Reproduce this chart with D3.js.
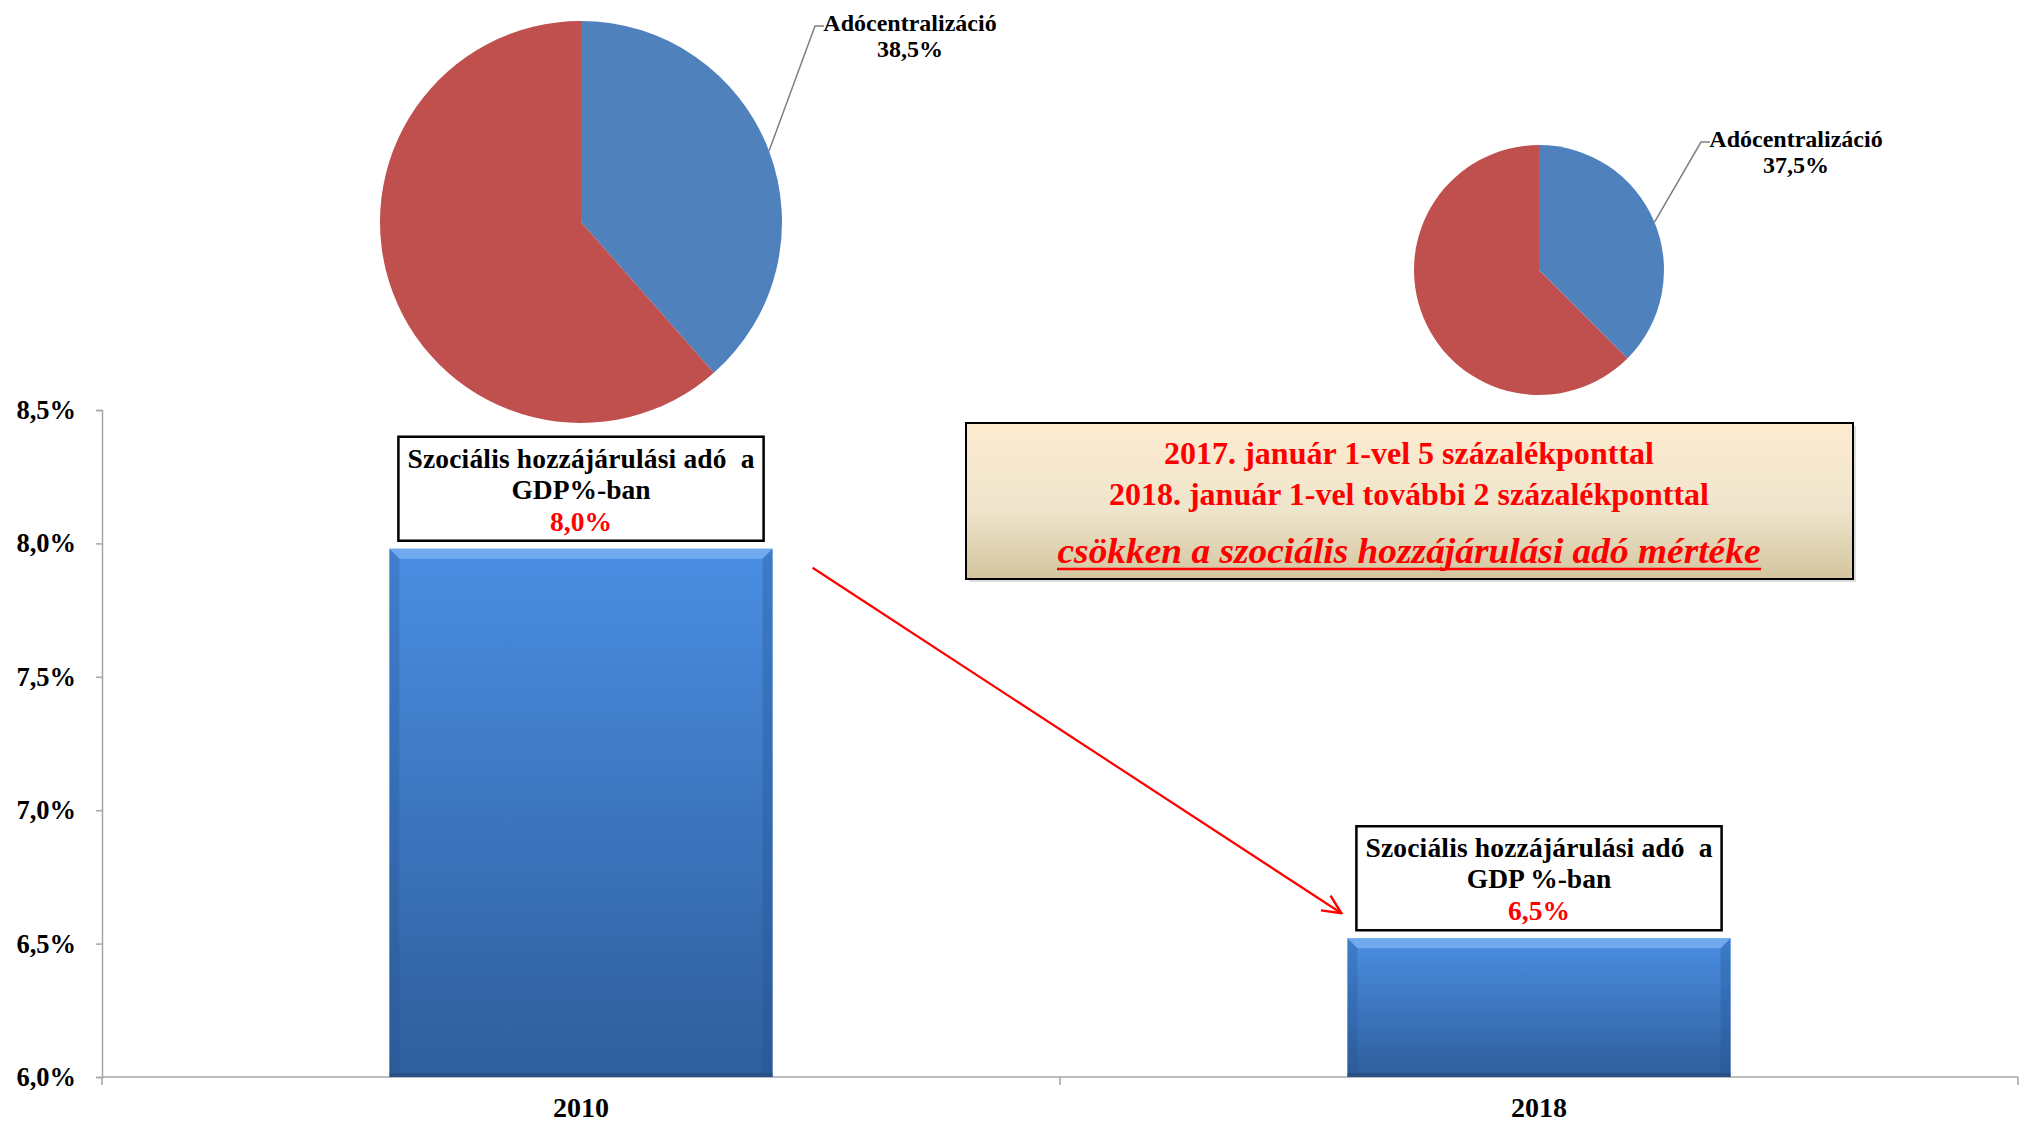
<!DOCTYPE html>
<html>
<head>
<meta charset="utf-8">
<title>Szociális hozzájárulási adó</title>
<script src="https://d3js.org/d3.v7.min.js"></script>
<style>
  body { margin: 0; background: #fff; }
  text { font-family: "Liberation Serif", "Times New Roman", serif; font-weight: bold; }
</style>
</head>
<body>
<script>
// chart data
var years = ["2010", "2018"];
var taxShare = [7.98, 6.52];            // szociális hozzájárulási adó, GDP %
var centralization = [38.5, 37.5];      // adócentralizáció, %
var yTicks = [6.0, 6.5, 7.0, 7.5, 8.0, 8.5];
var boxTitles = [["Szociális hozzájárulási adó  a", "GDP%-ban"],
                 ["Szociális hozzájárulási adó  a", "GDP %-ban"]];
var noteLines = ["2017. január 1-vel 5 százalékponttal",
                 "2018. január 1-vel további 2 százalékponttal",
                 "csökken a szociális hozzájárulási adó mértéke"];

var w = 2022, h = 1137;
// plot area (note: "top" is a reserved window property, so use other names)
var plotLeft = 102, plotRight = 2018, plotTop = 410, plotBottom = 1077;

var svg = d3.select("body").append("svg")
  .attr("width", w).attr("height", h);

var defs = svg.append("defs");

// bar gradient
var bg = defs.append("linearGradient").attr("id", "barGrad")
  .attr("x1", 0).attr("y1", 0).attr("x2", 0).attr("y2", 1);
bg.append("stop").attr("offset", "0%").attr("stop-color", "#4a8ee2");
bg.append("stop").attr("offset", "100%").attr("stop-color", "#2f5e9c");

// note box gradient
var ng = defs.append("linearGradient").attr("id", "noteGrad")
  .attr("x1", 0).attr("y1", 0).attr("x2", 0).attr("y2", 1);
ng.append("stop").attr("offset", "0%").attr("stop-color", "#fdebcf");
ng.append("stop").attr("offset", "55%").attr("stop-color", "#efe5cc");
ng.append("stop").attr("offset", "100%").attr("stop-color", "#d3c59e");

// arrow head
defs.append("marker").attr("id", "arrow")
  .attr("viewBox", "0 0 20 20").attr("refX", 19).attr("refY", 10)
  .attr("markerWidth", 22).attr("markerHeight", 22)
  .attr("markerUnits", "userSpaceOnUse").attr("orient", "auto")
  .append("path").attr("d", "M2,2 L19,10 L2,18")
  .attr("fill", "none").attr("stroke", "#ff0000").attr("stroke-width", 2.2);

// scales
var x = d3.scaleBand().domain(years).range([plotLeft, plotRight])
  .paddingInner(0.6).paddingOuter(0.3);
var y = d3.scaleLinear().domain([6, 8.5]).range([plotBottom, plotTop]);
var fmt = function(v) { return d3.format(".1f")(v).replace(".", ",") + "%"; };

// y axis
var yAxis = svg.append("g")
  .attr("transform", "translate(" + plotLeft + ",0)")
  .call(d3.axisLeft(y).tickValues(yTicks).tickSize(6).tickPadding(20).tickFormat(fmt));
yAxis.select(".domain").attr("stroke", "#a6a6a6").attr("stroke-width", 1.5);
yAxis.selectAll(".tick line").attr("stroke", "#a6a6a6").attr("stroke-width", 1.5);
yAxis.selectAll(".tick text")
  .attr("font-family", "Liberation Serif").attr("font-weight", "bold")
  .attr("font-size", 26.5).attr("fill", "#000");

// x axis line with ticks at category boundaries
svg.append("line").attr("x1", plotLeft).attr("x2", plotRight)
  .attr("y1", plotBottom).attr("y2", plotBottom)
  .attr("stroke", "#a6a6a6").attr("stroke-width", 1.5);
svg.selectAll(".xtick").data(d3.range(years.length + 1)).enter()
  .append("line").attr("class", "xtick")
  .attr("x1", function(i) { return plotLeft + i * x.step(); })
  .attr("x2", function(i) { return plotLeft + i * x.step(); })
  .attr("y1", plotBottom).attr("y2", plotBottom + 8)
  .attr("stroke", "#a6a6a6").attr("stroke-width", 1.5);
svg.selectAll(".xlabel").data(years).enter()
  .append("text").attr("class", "xlabel")
  .attr("x", function(d) { return x(d) + x.bandwidth() / 2; })
  .attr("y", plotBottom + 40)
  .attr("text-anchor", "middle").attr("font-size", 28)
  .text(function(d) { return d; });

// bars
var bars = svg.selectAll(".bar").data(years).enter()
  .append("g").attr("class", "bar");
bars.append("rect")
  .attr("x", function(d) { return x(d); })
  .attr("y", function(d, i) { return y(taxShare[i]); })
  .attr("width", x.bandwidth())
  .attr("height", function(d, i) { return plotBottom - y(taxShare[i]); })
  .attr("fill", "url(#barGrad)");
// bevel: light top, darker sides
var bev = 10;
bars.append("path")
  .attr("d", function(d, i) {
    var x0 = x(d), x1 = x(d) + x.bandwidth(), yt = y(taxShare[i]);
    return "M" + x0 + "," + yt + "L" + x1 + "," + yt + "L" + (x1 - bev) + "," + (yt + bev) +
      "L" + (x0 + bev) + "," + (yt + bev) + "Z";
  })
  .attr("fill", "#7db3f0").attr("opacity", 0.75);
bars.append("path")
  .attr("d", function(d, i) {
    var x0 = x(d), yt = y(taxShare[i]);
    return "M" + x0 + "," + yt + "L" + (x0 + bev) + "," + (yt + bev) + "L" + (x0 + bev) + "," + (plotBottom - 3) +
      "L" + x0 + "," + plotBottom + "Z";
  })
  .attr("fill", "#1f4f8f").attr("opacity", 0.25);
bars.append("path")
  .attr("d", function(d, i) {
    var x1 = x(d) + x.bandwidth(), yt = y(taxShare[i]);
    return "M" + x1 + "," + yt + "L" + (x1 - bev) + "," + (yt + bev) + "L" + (x1 - bev) + "," + (plotBottom - 3) +
      "L" + x1 + "," + plotBottom + "Z";
  })
  .attr("fill", "#1f4f8f").attr("opacity", 0.3);
// dark shadow line along the bar foot
bars.append("rect")
  .attr("x", function(d) { return x(d); })
  .attr("y", plotBottom - 4)
  .attr("width", x.bandwidth()).attr("height", 4)
  .attr("fill", "#24497a").attr("opacity", 0.6);

// value boxes above bars
var boxes = svg.selectAll(".vbox").data(years).enter()
  .append("g").attr("class", "vbox")
  .attr("transform", function(d, i) {
    return "translate(" + (x(d) + 9) + "," + (y(taxShare[i]) - 112) + ")";
  });
boxes.append("rect")
  .attr("width", x.bandwidth() - 18).attr("height", 104)
  .attr("fill", "#fff").attr("stroke", "#000").attr("stroke-width", 2.5);
boxes.each(function(d, i) {
  var g = d3.select(this), cx = (x.bandwidth() - 18) / 2;
  g.append("text").attr("x", cx).attr("y", 31).attr("text-anchor", "middle")
    .attr("font-size", 27.5).attr("xml:space", "preserve")
    .attr("textLength", 347).attr("lengthAdjust", "spacing").text(boxTitles[i][0]);
  g.append("text").attr("x", cx).attr("y", 62).attr("text-anchor", "middle")
    .attr("font-size", 27.5).text(boxTitles[i][1]);
  g.append("text").attr("x", cx).attr("y", 94).attr("text-anchor", "middle")
    .attr("font-size", 27.5).attr("fill", "#ff0000").text(fmt(taxShare[i]));
});

// red arrow from the 2010 bar to the 2018 box
svg.append("line")
  .attr("x1", x(years[0]) + x.bandwidth() + 40).attr("y1", y(taxShare[0]) + 19)
  .attr("x2", x(years[1]) - 6).attr("y2", y(taxShare[1]) - 25)
  .attr("stroke", "#ff0000").attr("stroke-width", 2.2)
  .attr("marker-end", "url(#arrow)");

// note box
var note = svg.append("g").attr("transform", "translate(966,423)");
note.append("rect").attr("x", 3).attr("y", 3).attr("width", 887).attr("height", 156)
  .attr("fill", "#bbb").attr("opacity", 0.5);
note.append("rect").attr("width", 887).attr("height", 156)
  .attr("fill", "url(#noteGrad)").attr("stroke", "#000").attr("stroke-width", 2);
note.append("text").attr("x", 443).attr("y", 41).attr("text-anchor", "middle")
  .attr("font-size", 31).attr("fill", "#ff0000")
  .attr("textLength", 490).attr("lengthAdjust", "spacingAndGlyphs").text(noteLines[0]);
note.append("text").attr("x", 443).attr("y", 82).attr("text-anchor", "middle")
  .attr("font-size", 31).attr("fill", "#ff0000")
  .attr("textLength", 600).attr("lengthAdjust", "spacingAndGlyphs").text(noteLines[1]);
note.append("text").attr("x", 443).attr("y", 140).attr("text-anchor", "middle")
  .attr("font-size", 36).attr("font-style", "italic").attr("fill", "#ff0000")
  .attr("textLength", 703).attr("lengthAdjust", "spacingAndGlyphs").text(noteLines[2]);
note.append("line").attr("x1", 443 - 352).attr("x2", 443 + 352)
  .attr("y1", 146).attr("y2", 146)
  .attr("stroke", "#ff0000").attr("stroke-width", 2.5);

// pies of tax centralization
var pieY = [222, 270], pieR = [201, 125];
var elbow = [[234, -196], [162, -128]];
var pie = d3.pie().sort(null).value(function(d) { return d; });
var arc = d3.arc().innerRadius(0);

years.forEach(function(yr, i) {
  var cx = x(yr) + x.bandwidth() / 2, cy = pieY[i], r = pieR[i];
  var g = svg.append("g").attr("transform", "translate(" + cx + "," + cy + ")");
  var slices = pie([centralization[i], 100 - centralization[i]]);
  g.selectAll("path").data(slices).enter().append("path")
    .attr("d", function(s) { return arc.outerRadius(r)(s); })
    .attr("fill", function(s, j) { return j === 0 ? "#4f81bd" : "#c0504d"; });

  var mid = (slices[0].startAngle + slices[0].endAngle) / 2;
  var px = r * Math.sin(mid), py = -r * Math.cos(mid);
  var ex = elbow[i][0], ey = elbow[i][1];
  g.append("path")
    .attr("d", "M" + px + "," + py + "L" + ex + "," + ey + "L" + (ex + 9) + "," + ey)
    .attr("fill", "none").attr("stroke", "#7f7f7f").attr("stroke-width", 1.5);
  g.append("text").attr("x", ex + 95).attr("y", ey + 5).attr("text-anchor", "middle")
    .attr("font-size", 24).text("Adócentralizáció");
  g.append("text").attr("x", ex + 95).attr("y", ey + 31).attr("text-anchor", "middle")
    .attr("font-size", 24).text(fmt(centralization[i]));
});
</script>
</body>
</html>
